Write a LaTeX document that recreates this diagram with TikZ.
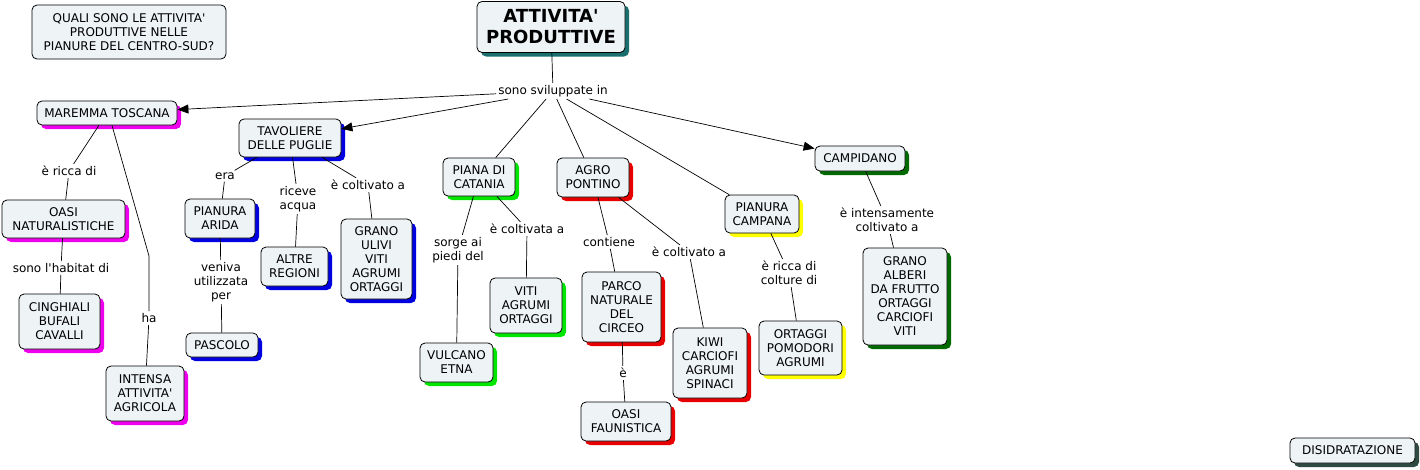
\documentclass[tikz,border=0pt]{standalone}
\usepackage{fontspec}
\setmainfont{DejaVu Sans}[Ligatures=TeXOff]
\usetikzlibrary{shadows,arrows.meta}
\definecolor{boxfill}{HTML}{EEF3F6}
\definecolor{shmag}{HTML}{EE00EE}
\definecolor{shblue}{HTML}{0000E0}
\definecolor{shgreen}{HTML}{00E600}
\definecolor{shred}{HTML}{E80000}
\definecolor{shyellow}{HTML}{FFFF00}
\definecolor{shdkgreen}{HTML}{006A00}
\definecolor{shteal}{HTML}{1A6E6E}
\definecolor{shgray}{HTML}{2F4A40}
\begin{document}
\begin{tikzpicture}[x=1pt,y=-1pt,
  box/.style={draw=black,line width=0.8pt,rounded corners=5pt,fill=boxfill,align=center,font=\fontsize{12}{14}\selectfont,inner sep=0pt},
  sh/.style={drop shadow={shadow xshift=4pt,shadow yshift=-4pt,fill=#1,opacity=1}},
  lab/.style={fill=white,inner sep=2pt,align=center,font=\fontsize{12}{14}\selectfont},
  con/.style={draw,line width=0.7pt},
  arr/.style={con,-{Triangle[length=11pt,width=9pt]}}]
\useasboundingbox (0,0) rectangle (1420,469);

% boxes
\node[box,minimum width=194pt,minimum height=54pt] (q) at (129,32) {QUALI SONO LE ATTIVITA'\\ PRODUTTIVE NELLE\\PIANURE DEL CENTRO-SUD?};
\node[box,sh=shteal,minimum width=148pt,minimum height=51pt,font=\fontsize{18}{21}\selectfont\bfseries] (t) at (551,27) {ATTIVITA'\\PRODUTTIVE};
\node[box,sh=shmag,minimum width=140pt,minimum height=24pt] (mar) at (107,113) {MAREMMA TOSCANA};
\node[box,sh=shblue,minimum width=102pt,minimum height=38pt] (tav) at (290,138) {TAVOLIERE\\DELLE PUGLIE};
\node[box,sh=shgreen,minimum width=72pt,minimum height=38pt] (pia) at (479,177) {PIANA DI\\CATANIA};
\node[box,sh=shred,minimum width=72pt,minimum height=39pt] (agr) at (593,177.5) {AGRO\\PONTINO};
\node[box,sh=shyellow,minimum width=74pt,minimum height=38pt] (cam) at (762,214) {PIANURA\\CAMPANA};
\node[box,sh=shdkgreen,minimum width=90pt,minimum height=25pt] (cpd) at (860,158.5) {CAMPIDANO};
\node[box,sh=shmag,minimum width=123pt,minimum height=38pt] (oasi) at (63.5,219) {OASI\\NATURALISTICHE};
\node[box,sh=shmag,minimum width=81pt,minimum height=55pt] (cin) at (59.5,321.5) {CINGHIALI\\BUFALI\\CAVALLI};
\node[box,sh=shmag,minimum width=78pt,minimum height=55pt] (int) at (145,393.5) {INTENSA\\ATTIVITA'\\AGRICOLA};
\node[box,sh=shblue,minimum width=70pt,minimum height=39pt] (ari) at (220,218.5) {PIANURA\\ARIDA};
\node[box,sh=shblue,minimum width=72pt,minimum height=24pt] (pas) at (222,345) {PASCOLO};
\node[box,sh=shblue,minimum width=67pt,minimum height=39pt] (alt) at (294.5,266.5) {ALTRE\\REGIONI};
\node[box,sh=shblue,minimum width=71pt,minimum height=80pt] (gra) at (376.5,259) {GRANO\\ULIVI\\VITI\\AGRUMI\\ORTAGGI};
\node[box,sh=shgreen,minimum width=73pt,minimum height=39pt] (vul) at (456.5,362.5) {VULCANO\\ETNA};
\node[box,sh=shgreen,minimum width=72pt,minimum height=55pt] (vit) at (526,305.5) {VITI\\AGRUMI\\ORTAGGI};
\node[box,sh=shred,minimum width=79pt,minimum height=70pt] (par) at (621.5,307) {PARCO\\NATURALE\\DEL\\CIRCEO};
\node[box,sh=shred,minimum width=90pt,minimum height=39pt] (oaf) at (626,421.5) {OASI\\FAUNISTICA};
\node[box,sh=shred,minimum width=74pt,minimum height=70pt] (kiw) at (710,363) {KIWI\\CARCIOFI\\AGRUMI\\SPINACI};
\node[box,sh=shyellow,minimum width=83pt,minimum height=54pt] (ort) at (800.5,348) {ORTAGGI\\POMODORI\\AGRUMI};
\node[box,sh=shdkgreen,minimum width=84pt,minimum height=97pt] (gr2) at (905,296.5) {GRANO\\ALBERI\\DA FRUTTO\\ORTAGGI\\CARCIOFI\\VITI};
\node[box,sh=shgray,minimum width=125pt,minimum height=25pt] (dis) at (1352.5,450.5) {DISIDRATAZIONE};

% labels
\node[lab] (l0) at (553,91) {sono sviluppate in};
\node[lab] (l1) at (69,171) {è ricca di};
\node[lab] (l2) at (149,318) {ha};
\node[lab] (l3) at (61,268) {sono l'habitat di};
\node[lab] (l4) at (225,176) {era};
\node[lab] (l5) at (298,199) {riceve\\acqua};
\node[lab] (l6) at (368,185) {è coltivato a};
\node[lab] (l7) at (221,282) {veniva\\utilizzata\\per};
\node[lab] (l8) at (458,250) {sorge ai\\piedi del};
\node[lab] (l9) at (527,229) {è coltivata a};
\node[lab] (l10) at (609,242) {contiene};
\node[lab] (l11) at (689,252) {è coltivato a};
\node[lab] (l12) at (623,373) {è};
\node[lab] (l13) at (789,273) {è ricca di\\colture di};
\node[lab] (l14) at (887,220) {è intensamente\\coltivato a};
\coordinate (hab) at (149,256);

% connectors
\draw[con] (t) -- (l0);
\draw[arr] (l0) -- (mar);
\draw[arr] (l0) -- (tav);
\draw[con] (l0) -- (pia);
\draw[con] (l0) -- (agr);
\draw[con] (l0) -- (cam);
\draw[arr] (l0) -- (cpd);
\draw[con] (mar) -- (l1);
\draw[con] (l1) -- (oasi);
\draw[con] (oasi) -- (l3);
\draw[con] (l3) -- (cin);
\draw[con] ([xshift=5pt]mar.south) -- (hab) -- (l2);
\draw[con] (l2) -- (int);
\draw[con] (tav) -- (l4);
\draw[con] (l4) -- (ari);
\draw[con] (tav) -- (l5);
\draw[con] (l5) -- (alt);
\draw[con] (tav) -- (l6);
\draw[con] (l6) -- (gra);
\draw[con] (ari) -- (l7);
\draw[con] (l7) -- (pas);
\draw[con] (pia) -- (l8);
\draw[con] (l8) -- (vul);
\draw[con] (pia) -- (l9);
\draw[con] (l9) -- (vit);
\draw[con] (agr) -- (l10);
\draw[con] (l10) -- (par);
\draw[con] (agr) -- (l11);
\draw[con] (l11) -- (kiw);
\draw[con] (par) -- (l12);
\draw[con] (l12) -- (oaf);
\draw[con] (cam) -- (l13);
\draw[con] (l13) -- (ort);
\draw[con] (cpd) -- (l14);
\draw[con] (l14) -- (gr2);
\end{tikzpicture}
\end{document}
